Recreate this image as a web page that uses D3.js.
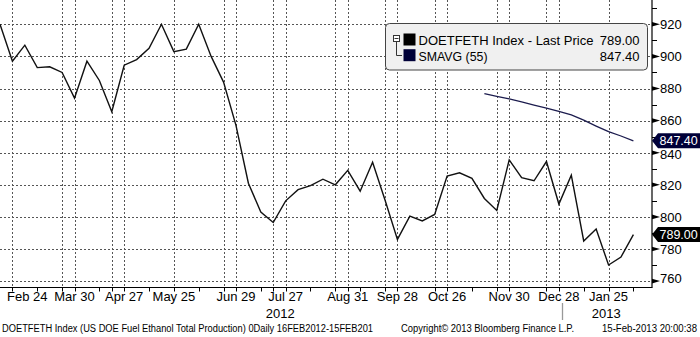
<!DOCTYPE html>
<html>
<head>
<meta charset="utf-8">
<script src="https://cdn.jsdelivr.net/npm/d3@7"></script>
<style>
  html, body { margin: 0; padding: 0; background: #fff; }
  svg { display: block; font-family: "Liberation Sans", Arial, sans-serif; }
</style>
</head>
<body>
<svg id="chart" width="700" height="337"></svg>
<script>
// Weekly US DOE fuel ethanol production (thousand b/d), Fridays 17 Feb 2012 – 8 Feb 2013
const weekStart = new Date(Date.UTC(2012, 1, 17));
const weekStop = new Date(Date.UTC(2013, 1, 9));
const weeks = d3.utcFriday.range(weekStart, weekStop);

const lastPrice = [
  920, 897, 907, 893, 893.5, 890, 874, 897, 885, 865.5,
  894.5, 898, 905, 920, 903, 904.5, 920, 900, 884, 857,
  821, 803, 796.5, 810, 817, 819.5, 823.5, 820, 829, 816,
  834, 810.5, 786, 800.5, 797.5, 801.5, 825.5, 827.5, 824, 811.5,
  804, 835.5, 824.5, 822.5, 834.5, 808, 826, 785, 792.5, 770,
  775, 789
];

// 55-period simple moving average, available from 16 Nov 2012
const smaStartIndex = 39;
const smavg = [876.8, 875.1, 873.5, 871.6, 869.7, 867.7, 865.8, 863.6, 860.3, 856.6, 853.1, 850.4, 847.4];

const yTicks = [760, 780, 800, 820, 840, 860, 880, 900, 920];
const yMinorTicks = [770, 790, 810, 830, 850, 870, 890, 910, 930];

const utc = (y, m, d) => new Date(Date.UTC(y, m - 1, d));
const labelDates = [utc(2012,2,24), utc(2012,3,30), utc(2012,4,27), utc(2012,5,25), utc(2012,6,29),
  utc(2012,7,27), utc(2012,8,31), utc(2012,9,28), utc(2012,10,26), utc(2012,11,30), utc(2012,12,28), utc(2013,1,25)];
const extraGridDates = [utc(2012,3,23), utc(2012,4,20), utc(2012,6,22), utc(2012,7,20), utc(2012,8,24),
  utc(2012,9,21), utc(2012,10,19), utc(2012,11,23), utc(2012,12,21)];
const extraTickDates = [utc(2012,3,9), utc(2012,4,13), utc(2012,5,11), utc(2012,6,8), utc(2012,7,13),
  utc(2012,8,10), utc(2012,9,7), utc(2012,11,9), utc(2013,1,11), utc(2013,2,8)];
const yearBreak = utc(2012,12,30);
const years = ["2012", "2013"];

const legendRows = [
  { name: "DOETFETH Index - Last Price", value: "789.00", color: "#000000", width: 175 },
  { name: "SMAVG (55)", value: "847.40", color: "#000038", width: 69 }
];
const footerLeft = "DOETFETH Index (US DOE Fuel Ethanol Total Production) 0Daily 16FEB2012-15FEB201";
const footerMid = "Copyright\u00A9 2013 Bloomberg Finance L.P.";
const footerRight = "15-Feb-2013 20:00:38";

// layout
const plotLeft = 0, plotRight = 652, plotTop = 0, plotBottom = 287.5;

const x = d3.scaleUtc().domain([weeks[0], weeks[weeks.length - 1]]).range([0, 633.4]);
const y = d3.scaleLinear().domain([760, 920]).range([281.1, 24.3]);

const svg = d3.select("#chart");

// grid
const grid = svg.append("g").attr("stroke", "#555").attr("stroke-width", 1).attr("stroke-dasharray", "2,2").attr("fill", "none");
yTicks.forEach(v => {
  const yy = Math.round(y(v)) + 0.5;
  grid.append("line").attr("x1", plotLeft).attr("x2", plotRight).attr("y1", yy).attr("y2", yy);
});
labelDates.concat(extraGridDates).forEach(d => {
  const xx = Math.round(x(d)) + 0.5;
  grid.append("line").attr("x1", xx).attr("x2", xx).attr("y1", plotTop).attr("y2", plotBottom);
});

// series
const line = d3.line().x(d => x(d.date)).y(d => y(d.value));
const priceData = lastPrice.map((v, i) => ({ date: weeks[i], value: v }));
const smaData = smavg.map((v, i) => ({ date: weeks[smaStartIndex + i], value: v }));

svg.append("path").datum(smaData).attr("d", line)
  .attr("fill", "none").attr("stroke", "#1c1c4e").attr("stroke-width", 1.3);
svg.append("path").datum(priceData).attr("d", line)
  .attr("fill", "none").attr("stroke", "#111").attr("stroke-width", 1.4).attr("stroke-linejoin", "miter");

// axes lines
svg.append("line").attr("x1", plotLeft).attr("x2", plotRight + 0.5).attr("y1", plotBottom).attr("y2", plotBottom)
  .attr("stroke", "#000").attr("stroke-width", 1.2);
svg.append("line").attr("x1", plotRight).attr("x2", plotRight).attr("y1", plotTop).attr("y2", plotBottom)
  .attr("stroke", "#000").attr("stroke-width", 1.2);

// right axis ticks
yMinorTicks.forEach(v => {
  const yy = Math.round(y(v)) + 0.5;
  svg.append("line").attr("x1", plotRight).attr("x2", plotRight + 5).attr("y1", yy).attr("y2", yy)
    .attr("stroke", "#000").attr("stroke-width", 1);
});
yTicks.forEach(v => {
  const yy = y(v);
  svg.append("path")
    .attr("d", `M${plotRight},${yy - 2.3}L${plotRight + 8},${yy}L${plotRight},${yy + 2.3}Z`)
    .attr("fill", "#000");
  svg.append("text").attr("x", 660).attr("y", yy + 4.7 - (v === 760 ? 2.5 : 0) + (v === 840 ? 1.6 : 0))
    .attr("font-size", 13).attr("fill", "#000").text(v);
});

// bottom axis ticks and labels
labelDates.concat(extraGridDates, extraTickDates).forEach(d => {
  const xx = Math.round(x(d)) + 0.5;
  svg.append("line").attr("x1", xx).attr("x2", xx).attr("y1", plotBottom).attr("y2", plotBottom + 4)
    .attr("stroke", "#000").attr("stroke-width", 1);
});
const fmt = d3.utcFormat("%b %e");
labelDates.forEach(d => {
  const t = svg.append("text").attr("y", 300.7).attr("font-size", 13).attr("fill", "#000")
    .attr("text-anchor", "middle").text(fmt(d));
  const w = t.node().getComputedTextLength();
  t.attr("x", Math.max(x(d), w / 2 + 7));
});

// year separator and labels
const xb = Math.round(x(yearBreak)) + 0.5;
svg.append("line").attr("x1", xb).attr("x2", xb).attr("y1", 303).attr("y2", 320)
  .attr("stroke", "#999").attr("stroke-width", 1.3);
const yearSpans = [[plotLeft, x(yearBreak)], [x(yearBreak), plotRight]];
years.forEach((yr, i) => {
  svg.append("text").attr("x", (yearSpans[i][0] + yearSpans[i][1]) / 2 - 1).attr("y", 317.5)
    .attr("font-size", 13).attr("text-anchor", "middle").attr("fill", "#000").text(yr);
});

// last-value tags on the right axis
const tags = [
  { value: smavg[smavg.length - 1], label: "847.40", color: "#000038" },
  { value: lastPrice[lastPrice.length - 1], label: "789.00", color: "#000000" }
];
tags.forEach(tg => {
  const yy = y(tg.value);
  svg.append("path")
    .attr("d", `M${plotRight},${yy}L${plotRight + 6},${yy - 7.5}L700,${yy - 7.5}L700,${yy + 7.5}L${plotRight + 6},${yy + 7.5}Z`)
    .attr("fill", tg.color);
  svg.append("text").attr("x", 659.5).attr("y", yy + 4.3).attr("font-size", 12.5)
    .attr("fill", "#fff").text(tg.label);
});

// legend
const lg = svg.append("g");
lg.append("rect").attr("x", 385.5).attr("y", 23.5).attr("width", 262).attr("height", 46.5)
  .attr("rx", 4).attr("ry", 4).attr("fill", "#f0f0f0").attr("stroke", "#444").attr("stroke-width", 1);
// tree glyph
lg.append("rect").attr("x", 393.5).attr("y", 35.5).attr("width", 6).attr("height", 6)
  .attr("fill", "#fff").attr("stroke", "#333").attr("stroke-width", 1);
lg.append("line").attr("x1", 394.5).attr("x2", 398.5).attr("y1", 38.5).attr("y2", 38.5).attr("stroke", "#333");
lg.append("path").attr("d", "M396.5,41.5V55.5H402").attr("fill", "none").attr("stroke", "#333");
legendRows.forEach((r, i) => {
  const base = 45 + i * 15.7;
  lg.append("rect").attr("x", 403.5).attr("y", base - 11.5).attr("width", 12).attr("height", 12).attr("fill", r.color);
  lg.append("text").attr("x", 418.5).attr("y", base).attr("font-size", 13).attr("fill", "#000")
    .attr("textLength", r.width).attr("lengthAdjust", "spacingAndGlyphs").text(r.name);
  lg.append("text").attr("x", 639.5).attr("y", base).attr("font-size", 13).attr("text-anchor", "end")
    .attr("fill", "#000").text(r.value);
});

// footer
const foot = svg.append("g").attr("font-size", 10).attr("fill", "#000");
foot.append("text").attr("x", 2).attr("y", 332).attr("textLength", 371).attr("lengthAdjust", "spacingAndGlyphs").text(footerLeft);
foot.append("text").attr("x", 401).attr("y", 332).attr("textLength", 173).attr("lengthAdjust", "spacingAndGlyphs").text(footerMid);
foot.append("text").attr("x", 602).attr("y", 332).attr("textLength", 95).attr("lengthAdjust", "spacingAndGlyphs").text(footerRight);
</script>
</body>
</html>
